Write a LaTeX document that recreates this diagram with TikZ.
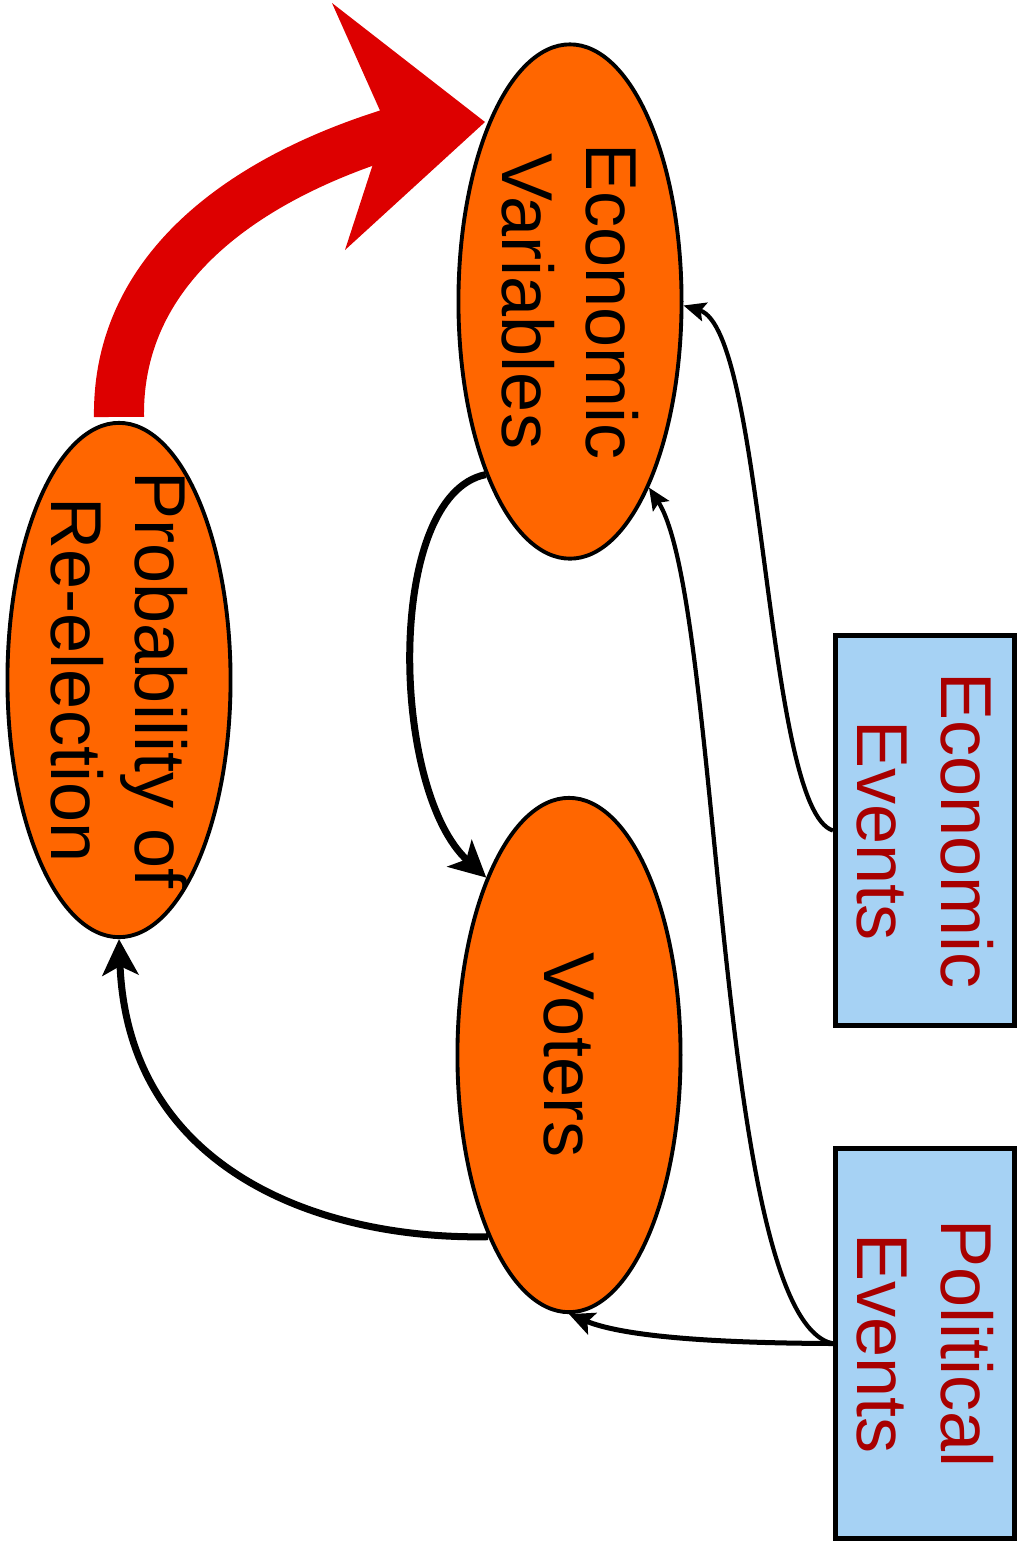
\documentclass[tikz,border=0pt]{standalone}
\usepackage{fontspec}
\setmainfont{Liberation Sans}
\usetikzlibrary{arrows.meta,shapes.geometric}
\definecolor{nodeorange}{RGB}{255,102,0}
\definecolor{boxblue}{RGB}{166,210,244}
\definecolor{boxtextcol}{RGB}{168,0,0}
\definecolor{bigred}{RGB}{221,0,0}
\begin{document}
\begin{tikzpicture}[x=0.01cm,y=-0.01cm,
  oval/.style={ellipse, draw=black, line width=1.1pt, fill=nodeorange,
    minimum width=2.23cm, minimum height=5.14cm, inner sep=0pt},
  eventbox/.style={rectangle, draw=black, line width=1.4pt, fill=boxblue,
    minimum width=1.79cm, minimum height=3.90cm, inner sep=0pt},
  ovaltext/.style={rotate=-90, align=center, inner sep=0pt, text=black,
    font=\fontsize{20.5}{23.8}\selectfont},
  boxlabel/.style={ovaltext, text=boxtextcol},
  redshaft/.style={draw=bigred, line width=0.5cm},
  redhead/.style={fill=bigred},
  heavyarrow/.style={draw=black, line width=0.07cm,
    -{Stealth[length=0.36cm,width=0.36cm,inset=0.09cm]}},
  midarrow/.style={draw=black, line width=0.05cm,
    -{Stealth[length=0.25cm,width=0.23cm,inset=0.05cm]}},
  lightarrow/.style={draw=black, line width=0.042cm,
    -{Stealth[length=0.22cm,width=0.19cm,inset=0.04cm]}}
]
\useasboundingbox (0,0) rectangle (1019,1544);

% nodes
\node[oval] (EV) at (570,301.5) {};
\node[oval] (PR) at (119,680) {};
\node[oval] (VO) at (569,1055) {};
\node[eventbox] (EE) at (925,830.5) {};
\node[eventbox] (PE) at (925,1343.5) {};

\node[ovaltext] (EVt) at (EV.center) {Economic\\Variables};
\node[ovaltext] (PRt) at (PR.center) {Probability of\\Re-election};
\node[ovaltext] (VOt) at (VO.center) {Voters};
\node[boxlabel] (EEt) at (EE.center) {Economic\\Events};
\node[boxlabel] (PEt) at (PE.center) {Political\\Events};

% big red arrow
\coordinate (redtip) at (485,122);
\draw[redshaft] ([yshift=0.04cm]PR.north) .. controls (117,268) and (245,178) .. (395,132);
\fill[redhead] (redtip) -- (332,3) -- (386,124) -- (345,250) -- cycle;

% black connectors
\draw[heavyarrow] (EV.244) .. controls (385,495) and (390,790) .. (VO.115);
\draw[heavyarrow] (VO.246) .. controls (320,1240) and (128,1170) .. (PR.south);
\draw[lightarrow] (EE.west) .. controls (765,810) and (765,330) .. (EV.358);
\draw[lightarrow] (PE.west) .. controls (715,1320) and (722,600) .. (EV.293);
\draw[midarrow] (PE.west) .. controls (700,1343) and (620,1335) .. (VO.south);
\end{tikzpicture}
\end{document}
